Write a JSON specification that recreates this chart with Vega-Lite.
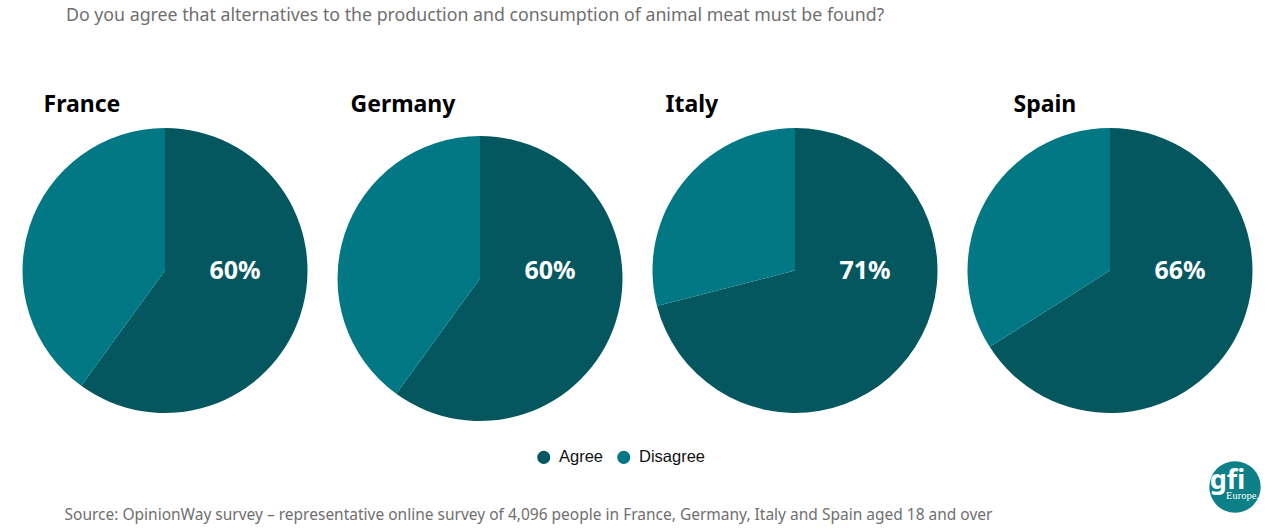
{
  "$schema": "https://vega.github.io/schema/vega-lite/v6.json",
  "background": "white",
  "padding": {"left": 22.5, "top": 7, "right": 0, "bottom": 0},
  "title": {
    "text": "Do you agree that alternatives to the production and consumption of animal meat must be found?",
    "anchor": "start",
    "dx": 43.5,
    "offset": 69,
    "fontSize": 17.75,
    "fontWeight": "normal",
    "font": "Noto Sans",
    "color": "#6f6f6f"
  },
  "datasets": {
    "survey": [
      {"country": "France", "answer": "Agree", "share": 60, "label": "60%"},
      {"country": "France", "answer": "Disagree", "share": 40},
      {"country": "Germany", "answer": "Agree", "share": 60, "label": "60%"},
      {"country": "Germany", "answer": "Disagree", "share": 40},
      {"country": "Italy", "answer": "Agree", "share": 71, "label": "71%"},
      {"country": "Italy", "answer": "Disagree", "share": 29},
      {"country": "Spain", "answer": "Agree", "share": 66, "label": "66%"},
      {"country": "Spain", "answer": "Disagree", "share": 34}
    ]
  },
  "config": {
    "view": {"stroke": null},
    "concat": {"spacing": 0},
    "title": {"font": "Noto Sans", "fontSize": 23, "fontWeight": "bold", "color": "#000000", "anchor": "start", "offset": 11}
  },
  "resolve": {"scale": {"color": "shared"}, "legend": {"color": "shared"}},
  "vconcat": [
    {
      "spacing": 30,
      "hconcat": [
        {
          "title": {"text": "France", "dx": 21},
          "width": 285,
          "height": 285,
          "data": {"name": "survey"},
          "transform": [{"filter": "datum.country === 'France'"}],
          "layer": [
            {
              "mark": {"type": "arc", "radius": 142.5},
              "encoding": {
                "theta": {"field": "share", "type": "quantitative", "stack": true},
                "color": {
                  "field": "answer",
                  "type": "nominal",
                  "scale": {"domain": ["Agree", "Disagree"], "range": ["#04575f", "#017884"]},
                  "legend": {"orient": "none", "legendX": 513, "legendY": 321, "direction": "horizontal", "title": null, "symbolType": "circle", "symbolSize": 170, "labelFontSize": 16.5, "labelFont": "Liberation Sans", "labelColor": "#111111", "labelOffset": 7, "columnPadding": 12, "symbolStrokeWidth": 0}
                }
              }
            },
            {
              "transform": [{"filter": "datum.answer === 'Agree'"}],
              "mark": {"type": "text", "dx": 70, "font": "Noto Sans", "fontSize": 25, "fontWeight": "bold", "color": "white"},
              "encoding": {"text": {"field": "label"}}
            }
          ]
        },
        {
          "title": {"text": "Germany", "dx": 13},
          "width": 285,
          "height": 301,
          "data": {"name": "survey"},
          "transform": [{"filter": "datum.country === 'Germany'"}],
          "layer": [
            {
              "mark": {"type": "arc", "radius": 142.5},
              "encoding": {
                "theta": {"field": "share", "type": "quantitative", "stack": true},
                "color": {"field": "answer", "type": "nominal"}
              }
            },
            {
              "transform": [{"filter": "datum.answer === 'Agree'"}],
              "mark": {"type": "text", "dx": 70, "dy": -8, "font": "Noto Sans", "fontSize": 25, "fontWeight": "bold", "color": "white"},
              "encoding": {"text": {"field": "label"}}
            }
          ]
        },
        {
          "title": {"text": "Italy", "dx": 13},
          "width": 285,
          "height": 285,
          "data": {"name": "survey"},
          "transform": [{"filter": "datum.country === 'Italy'"}],
          "layer": [
            {
              "mark": {"type": "arc", "radius": 142.5},
              "encoding": {
                "theta": {"field": "share", "type": "quantitative", "stack": true},
                "color": {"field": "answer", "type": "nominal"}
              }
            },
            {
              "transform": [{"filter": "datum.answer === 'Agree'"}],
              "mark": {"type": "text", "dx": 70, "font": "Noto Sans", "fontSize": 25, "fontWeight": "bold", "color": "white"},
              "encoding": {"text": {"field": "label"}}
            }
          ]
        },
        {
          "title": {"text": "Spain", "dx": 46},
          "width": 285,
          "height": 285,
          "data": {"name": "survey"},
          "transform": [{"filter": "datum.country === 'Spain'"}],
          "layer": [
            {
              "mark": {"type": "arc", "radius": 142.5},
              "encoding": {
                "theta": {"field": "share", "type": "quantitative", "stack": true},
                "color": {"field": "answer", "type": "nominal"}
              }
            },
            {
              "transform": [{"filter": "datum.answer === 'Agree'"}],
              "mark": {"type": "text", "dx": 70, "font": "Noto Sans", "fontSize": 25, "fontWeight": "bold", "color": "white"},
              "encoding": {"text": {"field": "label"}}
            }
          ]
        }
      ]
    },
    {
      "width": 1257,
      "height": 99,
      "data": {"values": [{"source": "Source: OpinionWay survey – representative online survey of 4,096 people in France, Germany, Italy and Spain aged 18 and over", "logo": "gfi", "region": "Europe."}]},
      "encoding": {
        "x": {"datum": 0, "type": "quantitative", "scale": {"domain": [0, 1257]}, "axis": null},
        "y": {"datum": 0, "type": "quantitative", "scale": {"domain": [99, 0]}, "axis": null}
      },
      "layer": [
        {
          "mark": {"type": "text", "align": "left", "baseline": "alphabetic", "font": "Noto Sans", "fontSize": 15.5, "color": "#6f6f6f"},
          "encoding": {
            "x": {"datum": 42},
            "y": {"datum": 91},
            "text": {"field": "source"}
          }
        },
        {
          "mark": {"type": "point", "shape": "circle", "filled": true, "size": 2642, "opacity": 1, "color": "#0d7f86"},
          "encoding": {
            "x": {"datum": 1212.5},
            "y": {"datum": 58}
          }
        },
        {
          "mark": {"type": "text", "font": "Noto Sans", "fontSize": 27, "fontWeight": "bold", "color": "white", "align": "center", "baseline": "alphabetic"},
          "encoding": {
            "x": {"datum": 1205},
            "y": {"datum": 60},
            "text": {"field": "logo"}
          }
        },
        {
          "mark": {"type": "text", "font": "Liberation Serif", "fontSize": 10.5, "color": "white", "align": "center", "baseline": "alphabetic"},
          "encoding": {
            "x": {"datum": 1220},
            "y": {"datum": 70},
            "text": {"field": "region"}
          }
        }
      ]
    }
  ]
}
